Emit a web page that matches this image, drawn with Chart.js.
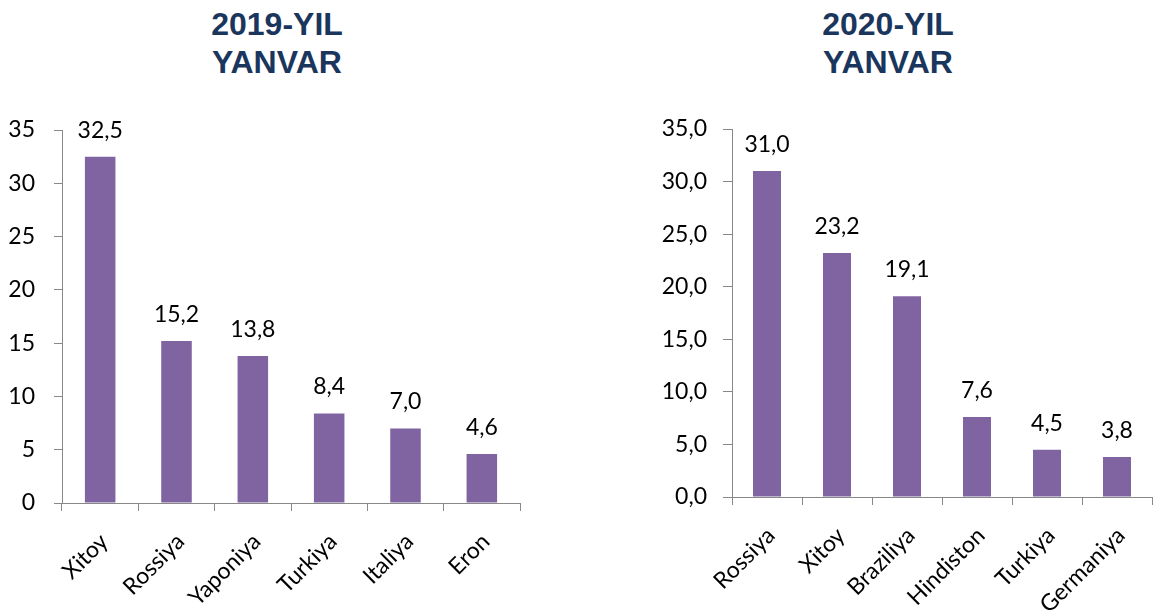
<!DOCTYPE html>
<html>
<head>
<meta charset="utf-8">
<script src="https://cdn.jsdelivr.net/npm/chart.js@4.4.1/dist/chart.umd.min.js"></script>
<style>
    body { margin: 0; background: #fff; width: 1157px; height: 613px; position: relative; overflow: hidden; }
    .title {
        position: absolute; top: 5px; width: 320px; text-align: center;
        font: bold 32px "Liberation Sans", Arial, sans-serif; line-height: 38px; color: #1B365D;
    }
    canvas { position: absolute; top: 0; }
</style>
</head>
<body>
<div class="title" style="left:117px">2019-YIL<br>YANVAR</div>
<div class="title" style="left:728px">2020-YIL<br>YANVAR</div>
<canvas id="chart2019" width="548" height="613" style="left:0"></canvas>
<canvas id="chart2020" width="597" height="613" style="left:560px"></canvas>
<script>
    // Categories and values
    const countries2019 = ["Xitoy", "Rossiya", "Yaponiya", "Turkiya", "Italiya", "Eron"];
    const values2019 = [32.5, 15.2, 13.8, 8.4, 7.0, 4.6];

    const countries2020 = ["Rossiya", "Xitoy", "Braziliya", "Hindiston", "Turkiya", "Germaniya"];
    const values2020 = [31.0, 23.2, 19.1, 7.6, 4.5, 3.8];

    const yMax = 35;
    const yStep = 5;

    const barColor = "#8064A2";
    const axisColor = "#888888";
    const font = { family: "Lato, 'Open Sans', sans-serif", size: 23 };

    const fmt = v => v.toFixed(1).replace(".", ",");

    // Writes the value above every bar
    const valueLabels = {
        id: "valueLabels",
        afterDatasetsDraw(chart) {
            const ctx = chart.ctx;
            const meta = chart.getDatasetMeta(0);
            const data = chart.data.datasets[0].data;
            ctx.save();
            ctx.font = `${font.size}px ${font.family}`;
            ctx.fillStyle = "#000";
            ctx.textAlign = "center";
            ctx.textBaseline = "alphabetic";
            meta.data.forEach((bar, i) => {
                ctx.fillText(fmt(data[i]), bar.x, bar.y - 19);
            });
            ctx.restore();
        }
    };

    function makeChart(id, labels, values, opts) {
        const ctx = document.getElementById(id).getContext("2d");
        return new Chart(ctx, {
            type: "bar",
            data: {
                labels: labels,
                datasets: [{
                    data: values,
                    backgroundColor: barColor,
                    barPercentage: 0.4,
                    categoryPercentage: 1.0
                }]
            },
            options: {
                responsive: false,
                animation: false,
                layout: { padding: { top: opts.top, right: opts.right, left: 0, bottom: 0 } },
                plugins: { legend: { display: false }, tooltip: { enabled: false } },
                scales: {
                    x: {
                        grid: { drawOnChartArea: false, offset: true, tickLength: 8, color: axisColor },
                        border: { color: axisColor },
                        ticks: {
                            color: "#000", font: font, autoSkip: false,
                            minRotation: 45, maxRotation: 45, padding: 17, labelOffset: 4
                        },
                        afterFit: scale => { scale.height = opts.xHeight; }
                    },
                    y: {
                        min: 0, max: yMax,
                        grid: { drawOnChartArea: false, tickLength: opts.tick, color: axisColor },
                        border: { color: axisColor },
                        ticks: {
                            stepSize: yStep, color: "#000", font: font, padding: opts.pad,
                            callback: opts.tickFmt
                        },
                        afterFit: scale => { scale.width = opts.yWidth; }
                    }
                }
            },
            plugins: [valueLabels]
        });
    }

    makeChart("chart2019", countries2019, values2019, {
        top: 130, right: 28, xHeight: 110, yWidth: 62, tick: 8, pad: 19,
        tickFmt: v => String(v)
    });

    makeChart("chart2020", countries2020, values2020, {
        top: 129, right: 5, xHeight: 116, yWidth: 172, tick: 9, pad: 16,
        tickFmt: v => fmt(v)
    });
</script>
</body>
</html>
